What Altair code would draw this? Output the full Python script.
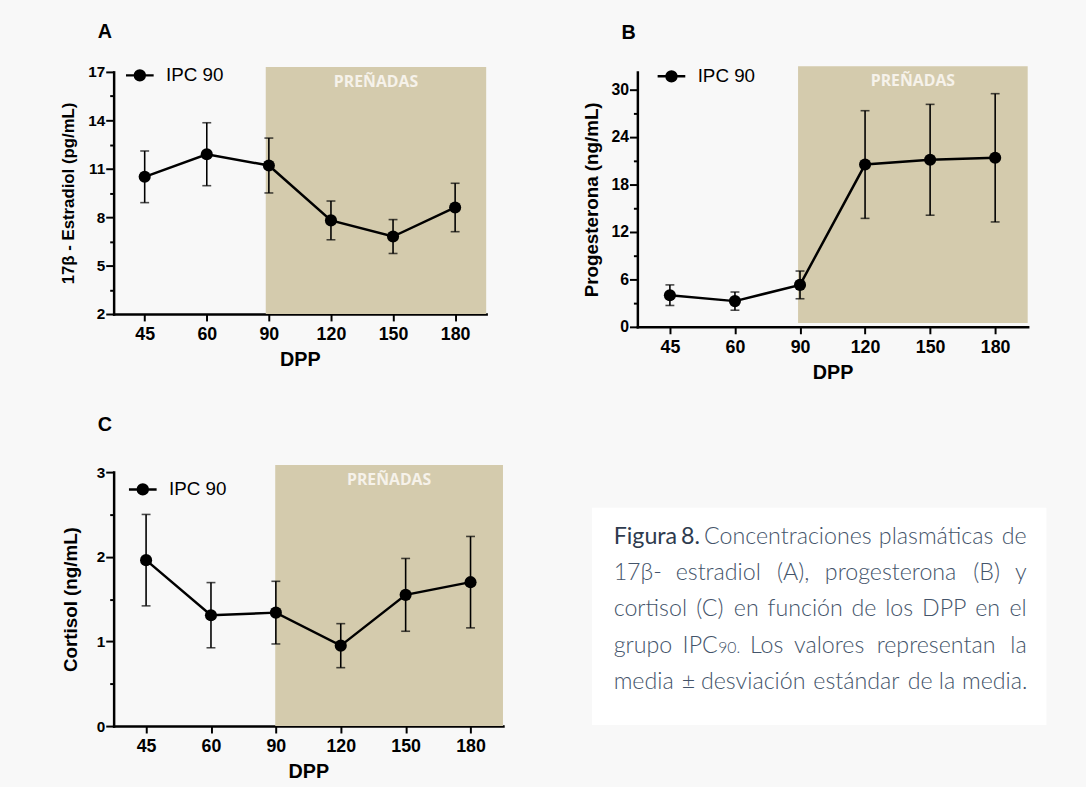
import json
import altair as alt
import pandas as pd

# ---------------- data ----------------
dpp_labels = ["45", "60", "90", "120", "150", "180"]
serie_label = "IPC 90"

estradiol_media = [10.5, 11.9, 11.2, 7.8, 6.8, 8.6]
estradiol_de = [1.6, 1.95, 1.7, 1.2, 1.05, 1.5]

progesterona_media = [4.0, 3.25, 5.3, 20.5, 21.1, 21.35]
progesterona_de = [1.3, 1.15, 1.75, 6.8, 7.0, 8.1]

cortisol_media = [1.96, 1.31, 1.34, 0.95, 1.55, 1.70]
cortisol_de = [0.54, 0.385, 0.37, 0.26, 0.43, 0.54]

# pregnant period band (x in category-index units, from the 90 DPP position)
prenadas_label = "PREÑADAS"
prenadas_inicio = [1.95, 1.97, 1.99]

caption_lines = [
    "*Figura *8. Concentraciones plasmáticas de",
    "17β- estradiol (A), progesterona (B) y",
    "cortisol (C) en función de los DPP en el",
    "grupo IPC_90. Los valores representan la",
    "media ± desviación estándar de la media.",
]

# ---------------- style ----------------
FONT = "Liberation Sans"
SHADE = "#d4cbad"
BG = "#f8f8f8"
X_DOMAIN = [-0.5, 5.5]
LEGEND_PATH = ("M-1,0L1,0M0.36,0A0.36,0.36,0,1,1,-0.36,0"
               "A0.36,0.36,0,1,1,0.36,0Z")


def panel(letter, ytitle, media, de, ydomain, ystep, shade_y, shade_x0,
          width, height, legend_xy, ytitle_pad, ytitle_size, ylabel_size,
          title_offset):
    df = pd.DataFrame({"i": list(range(len(dpp_labels))), "media": media,
                       "de": de, "serie": serie_label})
    df["lo"] = df["media"] - df["de"]
    df["hi"] = df["media"] + df["de"]

    base, top = ydomain
    half = ystep / 2.0
    n_half = int((top - base) / half + 1e-9)
    vals = [round(base + k * half, 4) for k in range(n_half + 1)]
    if (len(vals) - 1) % 2 == 1:
        vals = vals[:-1]
    major = (f"abs((datum.value - {base}) / {ystep} - "
             f"round((datum.value - {base}) / {ystep})) < 0.01")

    xscale = alt.Scale(domain=X_DOMAIN, nice=False, zero=False)
    yscale = alt.Scale(domain=list(ydomain), nice=False, zero=False)
    xaxis = alt.Axis(
        values=list(range(len(dpp_labels))),
        labelExpr=f"{json.dumps(dpp_labels)}[round(datum.value)]",
        title="DPP", titleFont=FONT, titleFontSize=20, titleFontWeight="bold",
        titleColor="black", titlePadding=6,
        labelFont=FONT, labelFontSize=18, labelFontWeight="bold",
        labelColor="black", labelPadding=5, labelFlush=False,
        labelOverlap=False, tickSize=7, tickWidth=2, tickColor="black",
        domainColor="black", domainWidth=2.5, domainCap="square", grid=False,
    )
    yaxis = alt.Axis(
        values=vals,
        labelExpr=f"{major} ? format(datum.value, '~g') : ''",
        title=ytitle, titleFont=FONT, titleFontSize=ytitle_size,
        titleFontWeight="bold", titleColor="black",
        titlePadding=ytitle_pad,
        labelFont=FONT, labelFontSize=ylabel_size, labelFontWeight="bold",
        labelColor="black", labelPadding=1, labelOverlap=False,
        labelFlush=False,
        tickSize={"condition": {"test": major, "value": 8}, "value": 4},
        tickWidth=2, tickColor="black",
        domainColor="black", domainWidth=2.5, domainCap="square", grid=False,
    )

    band = pd.DataFrame({"x0": [shade_x0], "x1": [X_DOMAIN[1]],
                         "y0": [shade_y[0]], "y1": [shade_y[1]],
                         "xc": [(shade_x0 + X_DOMAIN[1]) / 2],
                         "txt": [prenadas_label]})
    shade = alt.Chart(band).mark_rect(color=SHADE).encode(
        x=alt.X("x0:Q", scale=xscale, axis=xaxis), x2="x1",
        y=alt.Y("y0:Q", scale=yscale, axis=yaxis), y2="y1",
    )
    shade_txt = alt.Chart(band).mark_text(
        font="Open Sans", fontWeight="bold", fontSize=16, color="#f6f2ea",
        baseline="middle", dy=15,
    ).encode(
        x=alt.X("xc:Q", scale=xscale, axis=xaxis),
        y=alt.Y("y1:Q", scale=yscale, axis=yaxis),
        text="txt:N",
    )
    base_chart = alt.Chart(df)
    bars = base_chart.mark_rule(color="black", strokeWidth=1.6).encode(
        x=alt.X("i:Q", scale=xscale, axis=xaxis),
        y=alt.Y("lo:Q", scale=yscale, axis=yaxis), y2="hi",
    )
    cap_lo = base_chart.mark_tick(color="black", orient="horizontal",
                                  size=9, thickness=1.6).encode(
        x=alt.X("i:Q", scale=xscale, axis=xaxis),
        y=alt.Y("lo:Q", scale=yscale, axis=yaxis),
    )
    cap_hi = base_chart.mark_tick(color="black", orient="horizontal",
                                  size=9, thickness=1.6).encode(
        x=alt.X("i:Q", scale=xscale, axis=xaxis),
        y=alt.Y("hi:Q", scale=yscale, axis=yaxis),
    )
    line = base_chart.mark_line(color="black", strokeWidth=2.5).encode(
        x=alt.X("i:Q", scale=xscale, axis=xaxis),
        y=alt.Y("media:Q", scale=yscale, axis=yaxis),
    )
    pts = base_chart.mark_point(filled=True, size=150, opacity=1).encode(
        x=alt.X("i:Q", scale=xscale, axis=xaxis),
        y=alt.Y("media:Q", scale=yscale, axis=yaxis),
        color=alt.Color("serie:N", scale=alt.Scale(range=["#000000"]),
                        legend=alt.Legend(
                            title=None, orient="none",
                            legendX=legend_xy[0], legendY=legend_xy[1],
                            symbolType=LEGEND_PATH, symbolSize=784,
                            symbolStrokeWidth=2.5, symbolStrokeColor="black",
                            symbolFillColor="black",
                            labelFont=FONT, labelFontSize=19,
                            labelColor="black", labelOffset=11, padding=0,
                        )),
    )
    return alt.layer(shade, shade_txt, bars, cap_lo, cap_hi, line, pts).properties(
        width=width, height=height,
        title=alt.TitleParams(letter, anchor="start", frame="group", dx=-16,
                              font=FONT, fontSize=20, fontWeight="bold",
                              color="black", offset=title_offset),
    )


panel_a = panel("A", "17β - Estradiol (pg/mL)", estradiol_media, estradiol_de,
                (2, 17), 3, (2, 17.3), prenadas_inicio[0], 377, 245,
                (11, -12), 10, 17, 15.5, 18)
panel_b = panel("B", "Progesterona (ng/mL)", progesterona_media, progesterona_de,
                (0, 32.2), 6, (0.5, 32.9), prenadas_inicio[1], 395, 258,
                (19, -11), 10, 19, 16, 18)
panel_c = panel("C", "Cortisol (ng/mL)", cortisol_media, cortisol_de,
                (0, 3), 1, (0, 3.085), prenadas_inicio[2], 394, 257,
                (14, 2), 15.5, 19, 15.5, 30)

# ---------------- caption (justified text block) ----------------
CAP_W, CAP_H = 460, 256
BOX_TOP = 36
TXT_L, TXT_R = 22, 440
BODY_SIZE, SUB_SIZE = 23.5, 16
BODY_COLOR, HEAD_COLOR = "#44546a", "#2e3b4e"

_em = {
    "a": .51, "b": .56, "c": .46, "d": .56, "e": .53, "f": .32, "g": .5,
    "h": .56, "i": .24, "j": .24, "k": .5, "l": .24, "m": .84, "n": .56,
    "o": .56, "p": .56, "q": .56, "r": .36, "s": .43, "t": .35, "u": .56,
    "v": .5, "w": .77, "x": .49, "y": .5, "z": .45, "A": .66, "B": .62,
    "C": .66, "D": .73, "E": .55, "F": .53, "G": .7, "I": .27, "L": .48,
    "P": .6, "S": .52, ".": .22, ",": .22, "(": .3, ")": .3, "-": .36,
    "β": .57, "±": .58, "á": .51, "ó": .56, " ": .25,
}


def text_w(s, size):
    return sum(_em.get(ch, .58) for ch in s) * size


def split_word(word):
    if word.startswith("*"):
        return [(word.strip("*"), "head")]
    if "_" in word:
        a, b = word.split("_", 1)
        return [(a, "body"), (b, "sub")]
    return [(word, "body")]


seg_rows = []
for r, line in enumerate(caption_lines):
    words = [split_word(w) for w in line.split(" ") if w]
    widths = [sum(text_w(t, SUB_SIZE if st == "sub" else BODY_SIZE)
                  for t, st in wd) for wd in words]
    justify = r < len(caption_lines) - 1 and len(words) > 1
    gap = ((TXT_R - TXT_L) - sum(widths)) / (len(words) - 1) if justify \
        else text_w(" ", BODY_SIZE)
    x = TXT_L
    for k, wd in enumerate(words):
        last = justify and k == len(words) - 1
        sx = x
        for t, st in wd:
            size = SUB_SIZE if st == "sub" else BODY_SIZE
            seg_rows.append({
                "x": TXT_R if last else sx, "row": r, "text": t,
                "style": st, "align": "right" if last else "left",
                "size": size,
            })
            sx += text_w(t, size)
        x += widths[k] + gap

seg = pd.DataFrame(seg_rows)
cx = alt.X("x:Q", scale=alt.Scale(domain=[0, CAP_W], nice=False, zero=False),
           axis=None)
cy = alt.Y("row:O", scale=alt.Scale(range=[BOX_TOP, CAP_H], padding=1.14),
           axis=None)

# white caption panel
caption_box = alt.Chart(pd.DataFrame({"k": [0]})).mark_rect(
    color="#ffffff").encode(
    x=alt.value(0), x2=alt.value(CAP_W),
    y=alt.value(BOX_TOP), y2=alt.value(CAP_H),
)


def caption_layer(style, align, weight, color):
    sub = seg[(seg["style"] == style) & (seg["align"] == align)]
    return alt.Chart(sub).mark_text(
        font="Lato", fontWeight=weight, color=color, align=align,
        baseline="alphabetic",
    ).encode(x=cx, y=cy, text="text:N",
             size=alt.Size("size:Q", scale=None))


caption = alt.layer(
    caption_box,
    caption_layer("body", "left", 300, BODY_COLOR),
    caption_layer("body", "right", 300, BODY_COLOR),
    caption_layer("sub", "left", 300, BODY_COLOR),
    caption_layer("head", "left", "normal", HEAD_COLOR),
).properties(width=CAP_W, height=CAP_H)

top_row = alt.hconcat(panel_a, panel_b, spacing=97).resolve_scale(
    color="independent").resolve_legend(color="independent")
bottom_row = alt.hconcat(panel_c, caption, spacing=90).resolve_scale(
    color="independent").resolve_legend(color="independent")

chart = alt.vconcat(top_row, bottom_row, spacing=33).resolve_scale(
    color="independent").resolve_legend(color="independent").properties(
    padding={"left": 60, "top": 18, "right": 40, "bottom": 10},
    background=BG,
).configure_view(strokeWidth=0)

chart.save("out.html", embed_options={"renderer": "svg", "actions": False})
